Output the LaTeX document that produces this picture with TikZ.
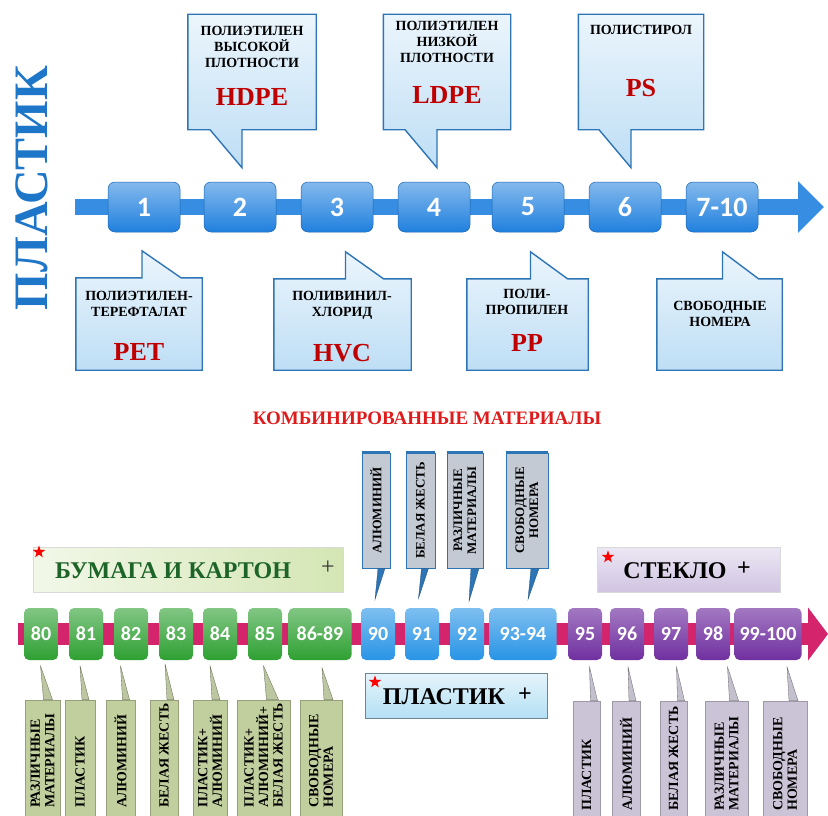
\documentclass[tikz,border=0pt]{standalone}
\usepackage{fontspec}
\setmainfont{Liberation Serif}
\newfontfamily\numfont{Carlito}
\usetikzlibrary{shapes,arrows.meta,positioning,calc}

\definecolor{plastblue}{RGB}{30,118,200}
\definecolor{topblue}{RGB}{32,128,222}
\definecolor{calloutedge}{RGB}{46,117,182}
\definecolor{calloutfill}{RGB}{190,222,245}
\definecolor{codered}{RGB}{192,0,0}
\definecolor{titlered}{RGB}{222,28,28}
\definecolor{mixpink}{RGB}{212,36,108}
\definecolor{greenbox}{RGB}{46,160,50}
\definecolor{bluebox}{RGB}{40,148,230}
\definecolor{purplebox}{RGB}{112,48,160}
\definecolor{paperfill}{RGB}{212,230,180}
\definecolor{papertext}{RGB}{28,100,40}
\definecolor{glassfill}{RGB}{208,196,226}
\definecolor{plasticfill}{RGB}{180,224,244}
\definecolor{greenlabel}{RGB}{214,230,176}
\definecolor{purplelabel}{RGB}{226,218,238}
\definecolor{bluelabel}{RGB}{222,230,240}

\begin{document}
\begin{tikzpicture}[
    x=1pt, y=-1pt,
    % Upper part styles
    bigtitle/.style={rotate=90, text=plastblue, inner sep=0,
        font=\bfseries\fontsize{48}{48}\selectfont},
    axisline/.style={draw=topblue!90!white, line width=16pt,
        -{Triangle[width=50pt,length=26pt]}},
    numblock/.style={
        rectangle,
        rounded corners=7pt,
        minimum width=72pt,
        minimum height=50pt,
        inner sep=0,
        top color=topblue!55!white,
        bottom color=topblue,
        draw=topblue!80!black,
        line width=0.5pt,
        text=white,
        font=\numfont\bfseries\fontsize{28}{28}\selectfont
    },
    callbox/.style={rectangle, inner sep=0},
    callout/.style={draw=calloutedge, line width=1.4pt,
        top color=calloutfill!30!white, bottom color=calloutfill},
    calltext/.style={align=center, inner sep=0,
        font=\bfseries\fontsize{14}{16}\selectfont},
    codetext/.style={text=codered, inner sep=0,
        font=\bfseries\fontsize{26}{26}\selectfont},
    % Lower part styles
    mixtitle/.style={text=titlered, inner sep=0,
        font=\bfseries\fontsize{19}{19}\selectfont},
    mixline/.style={draw=mixpink, line width=22pt,
        -{Triangle[width=52pt,length=20pt]}},
    smallblock/.style={
        rectangle,
        rounded corners=5pt,
        minimum width=34pt,
        minimum height=52pt,
        inner sep=0,
        text=white,
        font=\numfont\bfseries\fontsize{20}{20}\selectfont
    },
    greenblock/.style={smallblock, top color=greenbox!60!white, bottom color=greenbox},
    blueblock/.style={smallblock, top color=bluebox!60!white, bottom color=bluebox},
    purpleblock/.style={smallblock, top color=purplebox!65!white, bottom color=purplebox},
    groupbox/.style={rectangle, minimum height=45pt, inner sep=0, draw=black!15},
    grouptext/.style={inner sep=0, font=\bfseries\fontsize{24}{24}\selectfont},
    redstar/.style={star, star points=5, star point ratio=2.5, fill=red,
        minimum size=13pt, inner sep=0},
    uplabel/.style={rectangle, minimum height=115pt, inner sep=0,
        draw=calloutedge, line width=0.8pt,
        left color=bluelabel!88!black, middle color=bluelabel!50!white,
        right color=bluelabel!88!black},
    upedge/.style={draw=calloutedge, line width=3pt},
    uppointer/.style={fill=calloutedge, draw=calloutedge!70!black, line width=0.3pt},
    uptext/.style={rotate=90, align=center, inner sep=0,
        font=\bfseries\fontsize{13}{14}\selectfont},
    greenlabel/.style={rectangle, minimum height=122pt, inner sep=0,
        draw=greenlabel!70!black, line width=0.5pt,
        left color=greenlabel!90!black, middle color=greenlabel,
        right color=greenlabel!90!black},
    purplelabel/.style={rectangle, minimum height=122pt, inner sep=0,
        draw=purplelabel!70!black, line width=0.5pt,
        left color=purplelabel!90!black, middle color=purplelabel,
        right color=purplelabel!90!black},
    greenspike/.style={fill=greenlabel!70!gray, draw=greenlabel!45!black, line width=0.3pt},
    purplespike/.style={fill=purplelabel!70!gray, draw=purplelabel!45!black, line width=0.3pt},
    lowtext/.style={rotate=90, anchor=west, align=left, inner sep=0,
        font=\bfseries\fontsize{14}{14.5}\selectfont}
]

\path[fill=white, use as bounding box] (0,0) rectangle (828,816);

% PLASTIC title
\node[bigtitle] (plastic_title) at (32,188) {ПЛАСТИК};

% Plastic axis
\coordinate (axis_start) at (75,207);
\coordinate (axis_end) at (824,207);
\draw[axisline] (axis_start) -- (axis_end);

% Upper callouts
\node[callbox, minimum width=128pt, minimum height=115pt] (hdpe_box) at (252,72) {};
\path[callout] (hdpe_box.north west) -- (hdpe_box.north east) -- (hdpe_box.south east)
    -- ($(hdpe_box.south)+(-10,0)$) -- ($(hdpe_box.south)+(-10,38)$)
    -- ($(hdpe_box.south)+(-42,0)$) -- (hdpe_box.south west) -- cycle;
\node[calltext] (hdpe_name) at (252,47) {ПОЛИЭТИЛЕН\\ВЫСОКОЙ\\ПЛОТНОСТИ};
\node[codetext] (hdpe_code) at (252,97) {HDPE};

\node[callbox, minimum width=127pt, minimum height=115pt] (ldpe_box) at (447,72) {};
\path[callout] (ldpe_box.north west) -- (ldpe_box.north east) -- (ldpe_box.south east)
    -- ($(ldpe_box.south)+(-10,0)$) -- ($(ldpe_box.south)+(-10,38)$)
    -- ($(ldpe_box.south)+(-42,0)$) -- (ldpe_box.south west) -- cycle;
\node[calltext] (ldpe_name) at (447,42) {ПОЛИЭТИЛЕН\\НИЗКОЙ\\ПЛОТНОСТИ};
\node[codetext] (ldpe_code) at (447,95) {LDPE};

\node[callbox, minimum width=125pt, minimum height=115pt] (ps_box) at (641,72) {};
\path[callout] (ps_box.north west) -- (ps_box.north east) -- (ps_box.south east)
    -- ($(ps_box.south)+(-10,0)$) -- ($(ps_box.south)+(-10,38)$)
    -- ($(ps_box.south)+(-42,0)$) -- (ps_box.south west) -- cycle;
\node[calltext] (ps_name) at (641,30) {ПОЛИСТИРОЛ};
\node[codetext] (ps_code) at (641,88) {PS};

% Lower callouts
\node[callbox, minimum width=126pt, minimum height=92pt] (pet_box) at (139,324) {};
\path[callout] (pet_box.north west) -- ($(pet_box.north)+(3,0)$) -- ($(pet_box.north)+(3,-27)$)
    -- ($(pet_box.north)+(42,0)$) -- (pet_box.north east) -- (pet_box.south east)
    -- (pet_box.south west) -- cycle;
\node[calltext] (pet_name) at (139,303.5) {ПОЛИЭТИЛЕН-\\ТЕРЕФТАЛАТ};
\node[codetext] (pet_code) at (139,352) {PET};

\node[callbox, minimum width=137pt, minimum height=91pt] (hvc_box) at (342.5,324.5) {};
\path[callout] (hvc_box.north west) -- ($(hvc_box.north)+(3,0)$) -- ($(hvc_box.north)+(3,-27)$)
    -- ($(hvc_box.north)+(41,0)$) -- (hvc_box.north east) -- (hvc_box.south east)
    -- (hvc_box.south west) -- cycle;
\node[calltext] (hvc_name) at (342,305) {ПОЛИВИНИЛ-\\ХЛОРИД};
\node[codetext] (hvc_code) at (342,353) {HVC};

\node[callbox, minimum width=121pt, minimum height=91pt] (pp_box) at (527.5,324.5) {};
\path[callout] (pp_box.north west) -- ($(pp_box.north)+(3,0)$) -- ($(pp_box.north)+(3,-27)$)
    -- ($(pp_box.north)+(40,0)$) -- (pp_box.north east) -- (pp_box.south east)
    -- (pp_box.south west) -- cycle;
\node[calltext] (pp_name) at (527,301.5) {ПОЛИ-\\ПРОПИЛЕН};
\node[codetext] (pp_code) at (527,343) {PP};

\node[callbox, minimum width=125pt, minimum height=91pt] (free_box) at (719.5,324.5) {};
\path[callout] (free_box.north west) -- ($(free_box.north)+(3,0)$) -- ($(free_box.north)+(3,-27)$)
    -- ($(free_box.north)+(39,0)$) -- (free_box.north east) -- (free_box.south east)
    -- (free_box.south west) -- cycle;
\node[calltext] (free_name) at (720,313.5) {СВОБОДНЫЕ\\НОМЕРА};

% Plastic codes
\node[numblock] (num_1) at (144,207) {1};
\node[numblock] (num_2) at (240,207) {2};
\node[numblock] (num_3) at (337,207) {3};
\node[numblock] (num_4) at (434,207) {4};
\node[numblock] (num_5) at (528,207) {5};
\node[numblock] (num_6) at (625,207) {6};
\node[numblock] (num_7) at (722,207) {7-10};

% Combined materials
\node[mixtitle] (mix_title) at (427,418) {КОМБИНИРОВАННЫЕ МАТЕРИАЛЫ};

\coordinate (mix_start) at (18,634);
\coordinate (mix_end) at (828,634);
\draw[mixline] (mix_start) -- (mix_end);

% Group boxes
\node[groupbox, minimum width=310pt, left color=paperfill!30!white, right color=paperfill] (paper_box) at (188,569.5) {};
\node[grouptext, text=papertext] (paper_text) at (173,571) {БУМАГА И КАРТОН};
\node[grouptext, font=\fontsize{24}{24}\selectfont, text=black!80] (paper_plus) at (328,568) {+};
\node[redstar] (paper_star) at (39,552) {};

\node[groupbox, minimum width=183pt, top color=glassfill!40!white, bottom color=glassfill] (glass_box) at (688.5,569.5) {};
\node[grouptext] (glass_text) at (675,571) {СТЕКЛО};
\node[grouptext] (glass_plus) at (744,569) {+};
\node[redstar] (glass_star) at (608,557) {};

\node[groupbox, minimum width=182pt, draw=plasticfill!60!black, top color=plasticfill!35!white, bottom color=plasticfill] (plastic_box) at (456,695.5) {};
\node[grouptext] (plastic_text) at (444,697) {ПЛАСТИК};
\node[grouptext] (plastic_plus) at (525,695) {+};
\node[redstar] (plastic_star) at (375,682) {};

% Labels above blue codes
\node[uplabel, minimum width=28pt] (up_90) at (376,510.5) {};
\node[uplabel, minimum width=29pt] (up_91) at (420.5,510.5) {};
\node[uplabel, minimum width=36pt] (up_92) at (465,510.5) {};
\node[uplabel, minimum width=42pt] (up_93) at (527,510.5) {};
\draw[upedge] (up_90.north west) -- (up_90.north east);
\draw[upedge] (up_91.north west) -- (up_91.north east);
\draw[upedge] (up_92.north west) -- (up_92.north east);
\draw[upedge] (up_93.north west) -- (up_93.north east);
\fill[uppointer] ($(up_90.south)+(2,0)$) -- ($(up_90.south)+(-1,31)$) -- ($(up_90.south)+(9,0)$) -- cycle;
\fill[uppointer] ($(up_91.south)+(1,0)$) -- ($(up_91.south)+(-2,30)$) -- ($(up_91.south)+(8,0)$) -- cycle;
\fill[uppointer] ($(up_92.south)+(6,0)$) -- ($(up_92.south)+(4,33)$) -- ($(up_92.south)+(14,0)$) -- cycle;
\fill[uppointer] ($(up_93.south)+(4,0)$) -- ($(up_93.south)+(1,31)$) -- ($(up_93.south)+(12,0)$) -- cycle;
\node[uptext] (up_90_text) at (up_90) {АЛЮМИНИЙ};
\node[uptext] (up_91_text) at (up_91) {БЕЛАЯ ЖЕСТЬ};
\node[uptext] (up_92_text) at (up_92) {РАЗЛИЧНЫЕ\\МАТЕРИАЛЫ};
\node[uptext] (up_93_text) at (up_93) {СВОБОДНЫЕ\\НОМЕРА};

% Code blocks on the pink axis
\node[greenblock] (code_80) at (41,634) {80};
\node[greenblock] (code_81) at (86,634) {81};
\node[greenblock] (code_82) at (131,634) {82};
\node[greenblock] (code_83) at (176,634) {83};
\node[greenblock] (code_84) at (220,634) {84};
\node[greenblock] (code_85) at (265,634) {85};
\node[greenblock, minimum width=63pt] (code_86) at (320,634) {86-89};
\node[blueblock] (code_90) at (378,634) {90};
\node[blueblock] (code_91) at (422,634) {91};
\node[blueblock] (code_92) at (467,634) {92};
\node[blueblock, minimum width=67pt] (code_93) at (523,634) {93-94};
\node[purpleblock] (code_95) at (585,634) {95};
\node[purpleblock] (code_96) at (627,634) {96};
\node[purpleblock] (code_97) at (671,634) {97};
\node[purpleblock] (code_98) at (713,634) {98};
\node[purpleblock, minimum width=67pt] (code_99) at (768,634) {99-100};

% Labels below paper codes
\node[greenlabel, minimum width=35pt] (low_80) at (42.5,761) {};
\node[greenlabel, minimum width=30pt] (low_81) at (80,761) {};
\node[greenlabel, minimum width=29pt] (low_82) at (120.5,761) {};
\node[greenlabel, minimum width=28pt] (low_83) at (164,761) {};
\node[greenlabel, minimum width=34pt] (low_84) at (210,761) {};
\node[greenlabel, minimum width=53pt] (low_85) at (263.5,761) {};
\node[greenlabel, minimum width=42pt] (low_86) at (321,761) {};
\fill[greenspike] ($(low_80.north)+(1,0)$) -- ($(low_80.north)+(-2,-34)$) -- ($(low_80.north)+(10,0)$) -- cycle;
\fill[greenspike] ($(low_81.north)+(2,0)$) -- ($(low_81.north)+(0,-34)$) -- ($(low_81.north)+(9,0)$) -- cycle;
\fill[greenspike] ($(low_82.north)+(2,0)$) -- ($(low_82.north)+(0,-34)$) -- ($(low_82.north)+(9,0)$) -- cycle;
\fill[greenspike] ($(low_83.north)+(3,0)$) -- ($(low_83.north)+(1,-36)$) -- ($(low_83.north)+(10,0)$) -- cycle;
\fill[greenspike] ($(low_84.north)+(2,0)$) -- ($(low_84.north)+(0,-34)$) -- ($(low_84.north)+(10,0)$) -- cycle;
\fill[greenspike] ($(low_85.north)+(3,0)$) -- ($(low_85.north)+(0,-34)$) -- ($(low_85.north)+(15,0)$) -- cycle;
\fill[greenspike] ($(low_86.north)+(3,0)$) -- ($(low_86.north)+(1,-32)$) -- ($(low_86.north)+(12,0)$) -- cycle;
\node[lowtext] (low_80_text) at (42.5,808) {РАЗЛИЧНЫЕ\\МАТЕРИАЛЫ};
\node[lowtext] (low_81_text) at (80,808) {ПЛАСТИК};
\node[lowtext] (low_82_text) at (120.5,808) {АЛЮМИНИЙ};
\node[lowtext] (low_83_text) at (164,808) {БЕЛАЯ ЖЕСТЬ};
\node[lowtext] (low_84_text) at (210,808) {ПЛАСТИК+\\АЛЮМИНИЙ};
\node[lowtext] (low_85_text) at (263.5,808) {ПЛАСТИК+\\АЛЮМИНИЙ+\\БЕЛАЯ ЖЕСТЬ};
\node[lowtext] (low_86_text) at (321,808) {СВОБОДНЫЕ\\НОМЕРА};

% Labels below glass codes
\node[purplelabel, minimum width=27pt] (low_95) at (586.5,762) {};
\node[purplelabel, minimum width=28pt] (low_96) at (626,762) {};
\node[purplelabel, minimum width=27pt] (low_97) at (673.5,762) {};
\node[purplelabel, minimum width=43pt] (low_98) at (726.5,762) {};
\node[purplelabel, minimum width=44pt] (low_99) at (785,762) {};
\fill[purplespike] ($(low_95.north)+(4,0)$) -- ($(low_95.north)+(3,-34)$) -- ($(low_95.north)+(11,0)$) -- cycle;
\fill[purplespike] ($(low_96.north)+(3,0)$) -- ($(low_96.north)+(2,-34)$) -- ($(low_96.north)+(10,0)$) -- cycle;
\fill[purplespike] ($(low_97.north)+(4,0)$) -- ($(low_97.north)+(3,-34)$) -- ($(low_97.north)+(11,0)$) -- cycle;
\fill[purplespike] ($(low_98.north)+(3,0)$) -- ($(low_98.north)+(1,-34)$) -- ($(low_98.north)+(12,0)$) -- cycle;
\fill[purplespike] ($(low_99.north)+(4,0)$) -- ($(low_99.north)+(2,-34)$) -- ($(low_99.north)+(13,0)$) -- cycle;
\node[lowtext] (low_95_text) at (586.5,811) {ПЛАСТИК};
\node[lowtext] (low_96_text) at (626,811) {АЛЮМИНИЙ};
\node[lowtext] (low_97_text) at (673.5,811) {БЕЛАЯ ЖЕСТЬ};
\node[lowtext] (low_98_text) at (726.5,811) {РАЗЛИЧНЫЕ\\МАТЕРИАЛЫ};
\node[lowtext] (low_99_text) at (785,811) {СВОБОДНЫЕ\\НОМЕРА};

\end{tikzpicture}
\end{document}
